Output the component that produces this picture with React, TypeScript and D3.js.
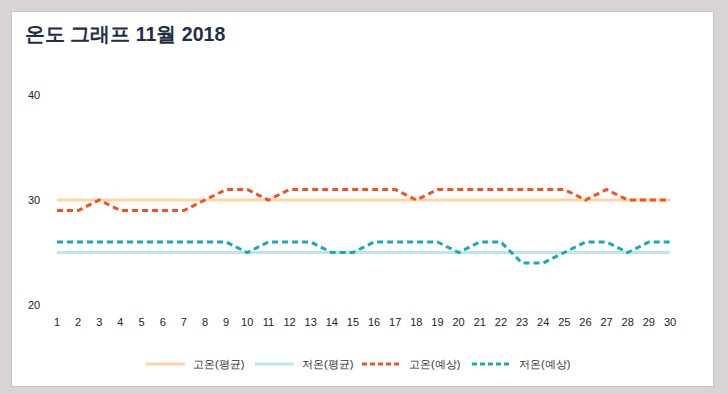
import React from 'react';
import * as d3 from 'd3';

// 11월 일자
const days = d3.range(1, 31);
const yTicks = [20, 30, 40];

// 평균
const highAvg = [30, 30, 30, 30, 30, 30, 30, 30, 30, 30, 30, 30, 30, 30, 30, 30, 30, 30, 30, 30, 30, 30, 30, 30, 30, 30, 30, 30, 30, 30];
const lowAvg = [25, 25, 25, 25, 25, 25, 25, 25, 25, 25, 25, 25, 25, 25, 25, 25, 25, 25, 25, 25, 25, 25, 25, 25, 25, 25, 25, 25, 25, 25];

// 예상
const highForecast = [29, 29, 30, 29, 29, 29, 29, 30, 31, 31, 30, 31, 31, 31, 31, 31, 31, 30, 31, 31, 31, 31, 31, 31, 31, 30, 31, 30, 30, 30];
const lowForecast = [26, 26, 26, 26, 26, 26, 26, 26, 26, 25, 26, 26, 26, 25, 25, 26, 26, 26, 26, 25, 26, 26, 24, 24, 25, 26, 26, 25, 26, 26];

const series = [
  { name: '고온(평균)', values: highAvg, color: '#ffd5a8', dash: null, width: 3 },
  { name: '저온(평균)', values: lowAvg, color: '#bfe5f1', dash: null, width: 3 },
  { name: '고온(예상)', values: highForecast, color: '#f4511e', dash: '6,4', width: 3 },
  { name: '저온(예상)', values: lowForecast, color: '#17a9b8', dash: '6,4', width: 3 },
];

const font = "'Liberation Sans', Arial, sans-serif";

const App = () => {
  const width = 728;
  const height = 394;

  const x = d3.scaleLinear().domain([1, 30]).range([57, 670]);
  const y = d3.scaleLinear().domain([20, 40]).range([305, 95]);

  const line = d3
    .line<number>()
    .x((_, i) => x(days[i]))
    .y((d) => y(d));

  const legendX = [146, 255, 362, 472];

  return (
    <svg
      width={width}
      height={height}
      style={{ position: 'absolute', left: 0, top: 0, display: 'block' }}
    >
      <rect x={0} y={0} width={width} height={height} fill="#d7d4d3" />
      <rect x={11.5} y={11.5} width={702} height={375} fill="#ffffff" stroke="#c8c6c5" />
      <text
        x={25}
        y={41}
        fontFamily={font}
        fontSize={19.5}
        fontWeight="bold"
        fill="#1e2f45"
      >
        온도 그래프 11월 2018
      </text>

      {yTicks.map((t) => (
        <text key={t} x={28} y={y(t) + 4} fontFamily={font} fontSize={11} fill="#222">
          {t}
        </text>
      ))}

      {days.map((d) => (
        <text
          key={d}
          x={x(d)}
          y={326}
          textAnchor="middle"
          fontFamily={font}
          fontSize={11}
          fill="#222"
        >
          {d}
        </text>
      ))}

      {series.map((s) => (
        <path
          key={s.name}
          d={line(s.values) || ''}
          fill="none"
          stroke={s.color}
          strokeWidth={s.width}
          strokeDasharray={s.dash || undefined}
        />
      ))}

      {series.map((s, i) => (
        <g key={s.name} transform={`translate(${legendX[i]},364)`}>
          <line
            x1={0}
            x2={39}
            y1={0}
            y2={0}
            stroke={s.color}
            strokeWidth={3}
            strokeDasharray={s.dash ? '5,3' : undefined}
          />
          <text x={47} y={4} fontFamily={font} fontSize={11} fill="#333">
            {s.name}
          </text>
        </g>
      ))}
    </svg>
  );
};

export default App;
